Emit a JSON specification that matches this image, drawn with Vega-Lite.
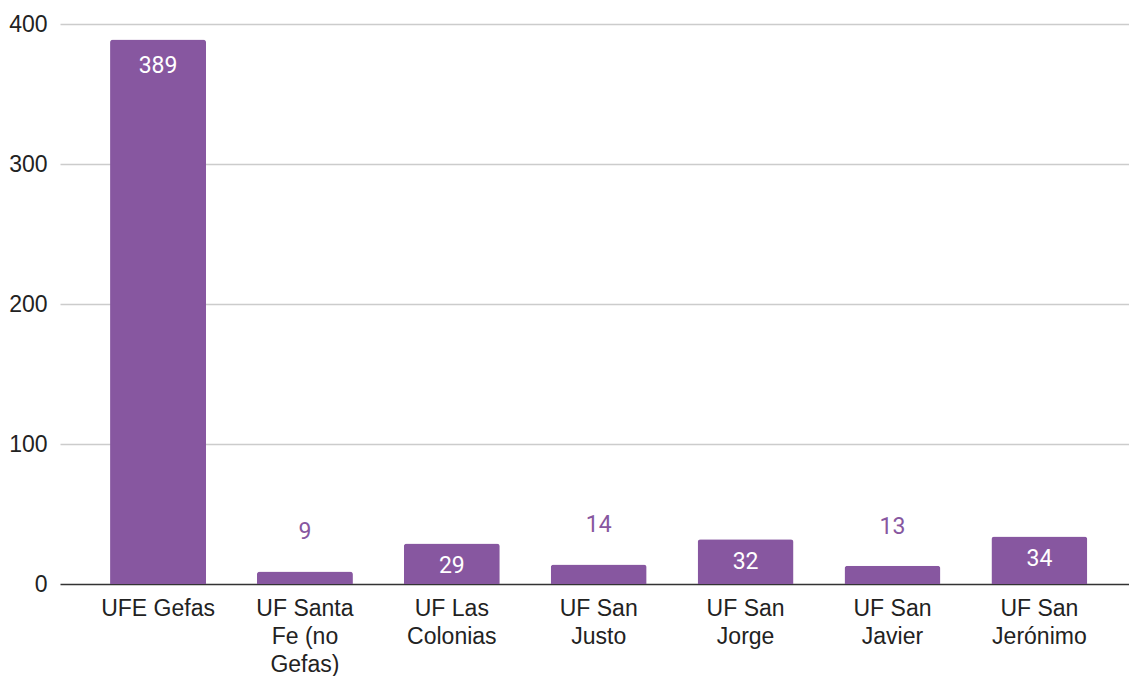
{
  "$schema": "https://vega.github.io/schema/vega-lite/v6.json",
  "width": 1069,
  "height": 560,
  "autosize": {"type": "none"},
  "padding": {"left": 60, "top": 24, "right": 0, "bottom": 92},
  "background": "white",
  "config": {"view": {"stroke": null}},
  "data": {
    "values": [
      {"unidad": "UFE Gefas", "total": 389},
      {"unidad": "UF Santa Fe (no Gefas)", "total": 9},
      {"unidad": "UF Las Colonias", "total": 29},
      {"unidad": "UF San Justo", "total": 14},
      {"unidad": "UF San Jorge", "total": 32},
      {"unidad": "UF San Javier", "total": 13},
      {"unidad": "UF San Jerónimo", "total": 34}
    ]
  },
  "encoding": {
    "x": {
      "field": "unidad",
      "type": "nominal",
      "sort": null,
      "scale": {"paddingInner": 0.3465, "paddingOuter": 0.312, "align": 0.546},
      "axis": {
        "title": null,
        "labelAngle": 0,
        "ticks": false,
        "domain": false,
        "labelFont": "Liberation Sans",
        "labelFontSize": 23,
        "labelColor": "#222222",
        "labelLineHeight": 28,
        "labelPadding": 13,
        "labelLimit": 300,
        "labelExpr": "datum.value == 'UFE Gefas' ? datum.value : datum.value == 'UF Santa Fe (no Gefas)' ? ['UF Santa', 'Fe (no', 'Gefas)'] : [substring(datum.value, 0, 6), substring(datum.value, 7)]"
      }
    }
  },
  "layer": [
    {
      "mark": {"type": "bar", "color": "#8757a0", "cornerRadiusTopLeft": 3, "cornerRadiusTopRight": 3},
      "encoding": {
        "y": {
          "field": "total",
          "type": "quantitative",
          "scale": {"domain": [0, 400], "nice": false},
          "axis": {
            "title": null,
            "values": [0, 100, 200, 300, 400],
            "domain": false,
            "ticks": false,
            "labelFont": "Liberation Sans",
            "labelFontSize": 23,
            "labelColor": "#222222",
            "labelPadding": 13,
            "gridColor": {"condition": {"test": "datum.value === 0", "value": "#333333"}, "value": "#cccccc"},
            "gridWidth": {"condition": {"test": "datum.value === 0", "value": 1.5}, "value": 1.3}
          }
        }
      }
    },
    {
      "transform": [{"filter": "datum.total >= 100"}],
      "mark": {"type": "text", "font": "Roboto", "fontSize": 23, "color": "white", "baseline": "middle", "dy": 27},
      "encoding": {
        "y": {"field": "total", "type": "quantitative"},
        "text": {"field": "total", "type": "quantitative"}
      }
    },
    {
      "transform": [{"filter": "datum.total >= 20 && datum.total < 100"}],
      "mark": {"type": "text", "font": "Roboto", "fontSize": 23, "color": "white", "baseline": "middle", "dy": 23},
      "encoding": {
        "y": {"field": "total", "type": "quantitative"},
        "text": {"field": "total", "type": "quantitative"}
      }
    },
    {
      "transform": [{"filter": "datum.total < 20"}],
      "mark": {"type": "text", "font": "Roboto", "fontSize": 23, "color": "#8757a0", "baseline": "middle", "dy": -39},
      "encoding": {
        "y": {"field": "total", "type": "quantitative"},
        "text": {"field": "total", "type": "quantitative"}
      }
    }
  ]
}
